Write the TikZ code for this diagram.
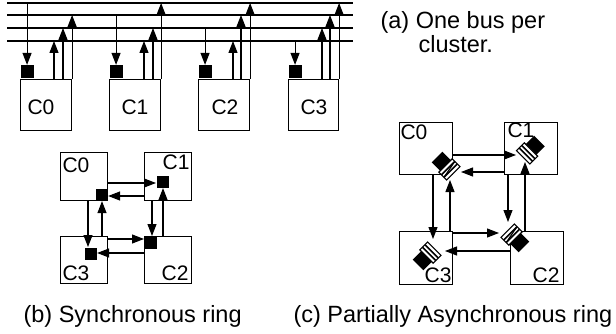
\documentclass[tikz,border=0pt]{standalone}
\usepackage{fontspec}
\setmainfont{Liberation Sans}
\usetikzlibrary{arrows.meta}
\newcommand\syncel[3]{%
  \begin{scope}[shift={#1},rotate=#2]
    \fill (-12,-7.5) rectangle (0,7.5);
    \draw[fill=white] (0,-9.5) rectangle (11,9.5);
    \draw[line width=1.6pt] (3.7,-9.5) -- (3.7,9.5) (7.3,-9.5) -- (7.3,9.5);
    \ifnum#3=1 \draw (3.7,-9.5) -- (7.3,9.5);\fi
  \end{scope}}
\begin{document}
\begin{tikzpicture}[x=1pt,y=-1pt,line width=1.1pt,
  arr/.style={-{Triangle[length=12pt,width=9pt]}},
  box/.style={draw,inner sep=0,anchor=north west},
  blk/.style={fill=black,inner sep=0,minimum size=12pt},
  lbl/.style={inner sep=0,font=\fontsize{21}{25}\selectfont},
  captxt/.style={inner sep=0,anchor=base west,font=\fontsize{23.5}{28}\selectfont}]
\useasboundingbox (0,0) rectangle (616,334);

% ---------------- (a) ----------------
\coordinate (bl0) at (7,3);   \coordinate (br0) at (353,3);
\coordinate (bl1) at (7,15);  \coordinate (br1) at (353,15);
\coordinate (bl2) at (7,28);  \coordinate (br2) at (353,28);
\coordinate (bl3) at (7,41);  \coordinate (br3) at (353,41);
\draw (bl0) -- (br0) (bl1) -- (br1) (bl2) -- (br2) (bl3) -- (br3);

\node[box,minimum width=51pt,minimum height=51pt] (a0) at (20,79) {};
\node[box,minimum width=51pt,minimum height=51pt] (a1) at (109,79) {};
\node[box,minimum width=51pt,minimum height=51pt] (a2) at (198,79) {};
\node[box,minimum width=50pt,minimum height=51pt] (a3) at (288,79) {};
\foreach \i in {0,1,2,3}
  \node[blk,minimum size=13pt,anchor=south west] (q\i) at (a\i.north west) {};
\node[lbl,anchor=base] (la0) at (41,115) {C0};
\node[lbl,anchor=base] (la1) at (135,115) {C1};
\node[lbl,anchor=base] (la2) at (225,115) {C2};
\node[lbl,anchor=base] (la3) at (314,115) {C3};

\draw[arr] (q0.north |- bl0) -- (q0.north);
\draw[arr] (a0.north -| 54,0) -- (54,0 |- bl3);
\draw[arr] (a0.north -| 63,0) -- (63,0 |- bl2);
\draw[arr] (a0.north east) -- (a0.north east |- bl1);

\draw[arr] (q1.north |- bl1) -- (q1.north);
\draw[arr] (a1.north -| 144,0) -- (144,0 |- bl3);
\draw[arr] (a1.north -| 153,0) -- (153,0 |- bl2);
\draw[arr] (a1.north east) -- (a1.north east |- bl0);

\draw[arr] (q2.north |- bl2) -- (q2.north);
\draw[arr] (a2.north -| 233,0) -- (233,0 |- bl3);
\draw[arr] (a2.north -| 241,0) -- (241,0 |- bl1);
\draw[arr] (a2.north east) -- (a2.north east |- bl0);

\draw[arr] (q3.north |- bl3) -- (q3.north);
\draw[arr] (a3.north -| 322,0) -- (322,0 |- bl2);
\draw[arr] (a3.north -| 330,0) -- (330,0 |- bl1);
\draw[arr] (a3.north east) -- (a3.north east |- bl0);

\node[captxt] (capa1) at (380,29) {(a) One bus per};
\node[captxt] (capa2) at (418,53) {cluster.};

% ---------------- (b) ----------------
\node[box,minimum width=47pt,minimum height=48pt] (b0) at (60,152) {};
\node[box,minimum width=47pt,minimum height=48pt] (b1) at (144,152) {};
\node[box,minimum width=47pt,minimum height=47pt] (b3) at (60,236) {};
\node[box,minimum width=47pt,minimum height=47pt] (b2) at (144,236) {};
\node[blk,anchor=south east] (s0) at (b0.south east) {};
\node[blk,anchor=north west] (s1) at (156,175) {};
\node[blk,anchor=north west] (s2) at (b2.north west) {};
\node[blk,anchor=north west] (s3) at (84,247) {};
\node[lbl,anchor=base west] (lb0) at (62,172) {C0};
\node[lbl,anchor=base east] (lb1) at (190,170) {C1};
\node[lbl,anchor=base west] (lb3) at (62,280) {C3};
\node[lbl,anchor=base east] (lb2) at (189,280) {C2};

\draw[arr] (b0.east |- 0,183) -- (s1.west |- 0,183);
\draw[arr] (b1.west |- 0,196) -- (s0.east |- 0,196);
\draw[arr] (b1.south -| 152,0) -- (152,0 |- s2.north);
\draw[arr] (b2.north -| 163,0) -- (163,0 |- s1.south);
\draw[arr] (b2.west |- 0,253) -- (s3.east |- 0,253);
\draw[arr] (b3.east |- 0,239) -- (s2.west |- 0,239);
\draw[arr] (b0.south -| 88,0) -- (88,0 |- s3.north);
\draw[arr] (b3.north -| 102,0) -- (102,0 |- s0.south);

\node[captxt] (capb) at (23,322) {(b) Synchronous ring};

% ---------------- (c) ----------------
\node[box,minimum width=53pt,minimum height=52pt] (c0) at (399,122) {};
\node[box,minimum width=53pt,minimum height=52pt] (c1) at (504,122) {};
\node[box,minimum width=53pt,minimum height=53pt] (c3) at (399,231) {};
\node[box,minimum width=53pt,minimum height=53pt] (c2) at (510,231) {};
\node[lbl,anchor=base west] (lc0) at (400,140) {C0};
\node[lbl,anchor=base west] (lc1) at (507,138) {C1};
\node[lbl,anchor=base east] (lc3) at (452,282) {C3};
\node[lbl,anchor=base east] (lc2) at (560,282) {C2};

\syncel{(445.5,165.5)}{-45}{1}
\syncel{(531,149.5)}{-135}{0}
\syncel{(515.5,238.5)}{135}{1}
\syncel{(426.5,256.5)}{45}{0}

\coordinate (t01) at (516,155);
\coordinate (t10) at (461,172);
\coordinate (t12) at (508,222);
\coordinate (t21) at (525,162);
\coordinate (t23) at (445,251);
\coordinate (t32) at (499,233);
\coordinate (t03) at (433,239);
\coordinate (t30) at (450,180);

\draw[arr] (c0.east |- t01) -- (t01);
\draw[arr] (c1.west |- t10) -- (t10);
\draw[arr] (c1.south -| t12) -- (t12);
\draw[arr] (c2.north -| t21) -- (t21);
\draw[arr] (c2.west |- t23) -- (t23);
\draw[arr] (c3.east |- t32) -- (t32);
\draw[arr] (c0.south -| t03) -- (t03);
\draw[arr] (c3.north -| t30) -- (t30);

\node[captxt] (capc) at (293,322) {(c) Partially Asynchronous ring};
\end{tikzpicture}
\end{document}
